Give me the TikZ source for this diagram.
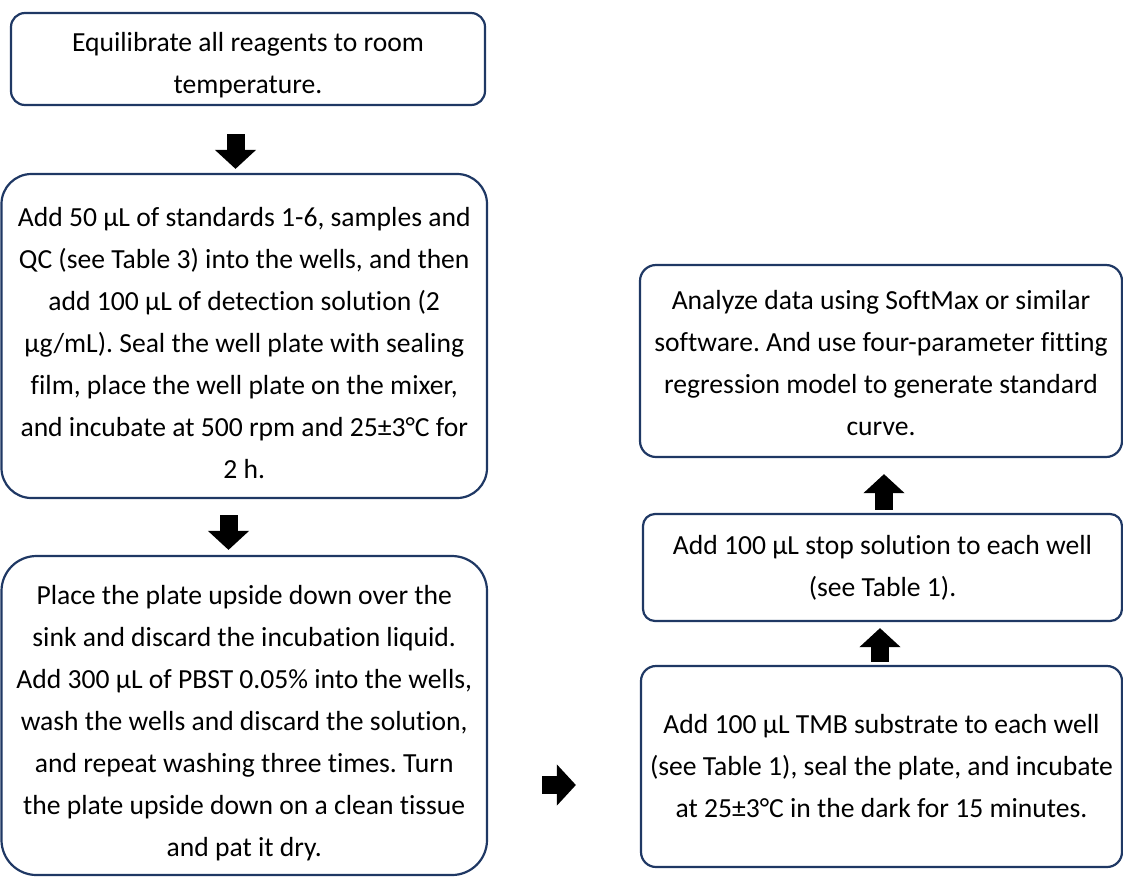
\documentclass[tikz,border=0pt]{standalone}
\usepackage{fontspec}
\setmainfont{Carlito}[Ligatures=NoCommon]
\usetikzlibrary{calc,arrows.meta}
\definecolor{boxline}{HTML}{1F3864}
\frenchspacing
\newcommand{\lowerby}[1]{\rule{0pt}{#1}}
\tikzset{
  stepbox/.style={draw=boxline, line width=2.2pt, fill=white, inner sep=0pt, align=center,
    font=\fontsize{27.6}{42}\selectfont\frenchspacing, text=black},
  blk/.style={line width=18pt, draw=black, -{Triangle[width=40pt,length=19pt]}}
}
\begin{document}
\begin{tikzpicture}[x=1pt,y=-1pt]
\useasboundingbox (0,0) rectangle (1123,876);
\node[stepbox, minimum width=474pt, minimum height=92pt, rounded corners=14pt] (b1) at (248,59)
 {\lowerby{32pt}Equilibrate all reagents to room\\temperature.};
\node[stepbox, minimum width=485.5pt, minimum height=324pt, rounded corners=30pt] (b2) at (244.25,336)
 {\lowerby{33pt}Add 50 µL of standards 1-6, samples and\\QC (see Table 3) into the wells, and then\\add 100 µL of detection solution (2\\µg/mL). Seal the well plate with sealing\\film, place the well plate on the mixer,\\and incubate at 500 rpm and 25±3°C for\\2 h.};
\node[stepbox, minimum width=485.5pt, minimum height=319pt, rounded corners=35pt] (b3) at (244.25,715.5)
 {\lowerby{34pt}Place the plate upside down over the\\sink and discard the incubation liquid.\\Add 300 µL of PBST 0.05\% into the wells,\\wash the wells and discard the solution,\\and repeat washing three times. Turn\\the plate upside down on a clean tissue\\and pat it dry.};
\node[stepbox, minimum width=482pt, minimum height=192pt, rounded corners=16pt] (b4) at (881,361)
 {\lowerby{24pt}Analyze data using SoftMax or similar\\software. And use four-parameter fitting\\regression model to generate standard\\curve.};
\node[stepbox, minimum width=479pt, minimum height=107pt, rounded corners=12pt] (b5) at (882.5,567.5)
 {Add 100 µL stop solution to each well\\(see Table 1).};
\node[stepbox, minimum width=481pt, minimum height=201pt, rounded corners=15pt] (b6) at (881.5,766.5)
 {Add 100 µL TMB substrate to each well\\(see Table 1), seal the plate, and incubate\\at 25±3°C in the dark for 15 minutes.};
\draw[blk] ($(b1.south)+(-12.5,28)$) -- ($(b2.north)+(-8.75,-4)$);
\draw[blk] ($(b2.south)+(-15.75,16)$) -- ($(b3.north)+(-15.75,-5)$);
\draw[blk] ($(b3.east)+(54,69.5)$) -- ($(b6.west)+(-64,18.5)$);
\draw[blk] ($(b6.north)+(-1.5,-3)$) -- ($(b5.south)+(-2.5,6)$);
\draw[blk] ($(b5.north)+(1.5,-3)$) -- ($(b4.south)+(3,16)$);
\end{tikzpicture}
\end{document}
